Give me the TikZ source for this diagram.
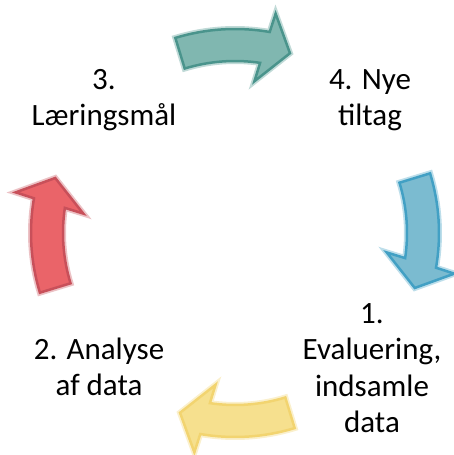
\documentclass[tikz,border=0pt]{standalone}
\usepackage{fontspec}
\setmainfont{Carlito}
\usepackage{tikz}

\definecolor{tealfill}{RGB}{128,183,176}
\definecolor{tealline}{RGB}{74,148,140}
\definecolor{bluefill}{RGB}{123,187,208}
\definecolor{blueline}{RGB}{66,160,196}
\definecolor{yellowfill}{RGB}{246,224,142}
\definecolor{yellowline}{RGB}{242,212,112}
\definecolor{redfill}{RGB}{234,100,105}
\definecolor{redline}{RGB}{200,80,90}

\begin{document}
\begin{tikzpicture}[
        x = 1pt, y = 1pt,
        blockarrow/.style = {
            line width = 2.5pt,
            line join = miter
        },
        step label/.style = {
            align = center,
            font = \fontsize{31}{36.5}\selectfont
        }
        ]
        \useasboundingbox (-235,-222) rectangle (219,233);
%
        \foreach \ang/\fc/\lc in {90/tealfill/tealline, 0/bluefill/blueline, -90/yellowfill/yellowline, 180/redfill/redline}{
            \draw[blockarrow, fill=\fc, draw=\lc, preaction={draw=\lc, line width=6pt, opacity=0.35}]
                (\ang+17:204) arc [start angle=\ang+17, end angle=\ang-9.8, radius=204]
                -- (\ang-10.5:223) -- (\ang-17:188) -- (\ang-7.3:153) -- (\ang-8.4:172)
                arc [start angle=\ang-8.4, end angle=\ang+17, radius=172] -- cycle;
        }
%
        \node[step label] (evaluering) at (137,-135) {1.\\Evaluering,\\indsamle\\data};
        \node[step label] (analyse) at (-136,-134) {2. Analyse\\af data};
        \node[step label] (maal) at (-131,133) {3.\\Læringsmål};
        \node[step label] (tiltag) at (135,133) {4. Nye\\tiltag};
%
\end{tikzpicture}
\end{document}
